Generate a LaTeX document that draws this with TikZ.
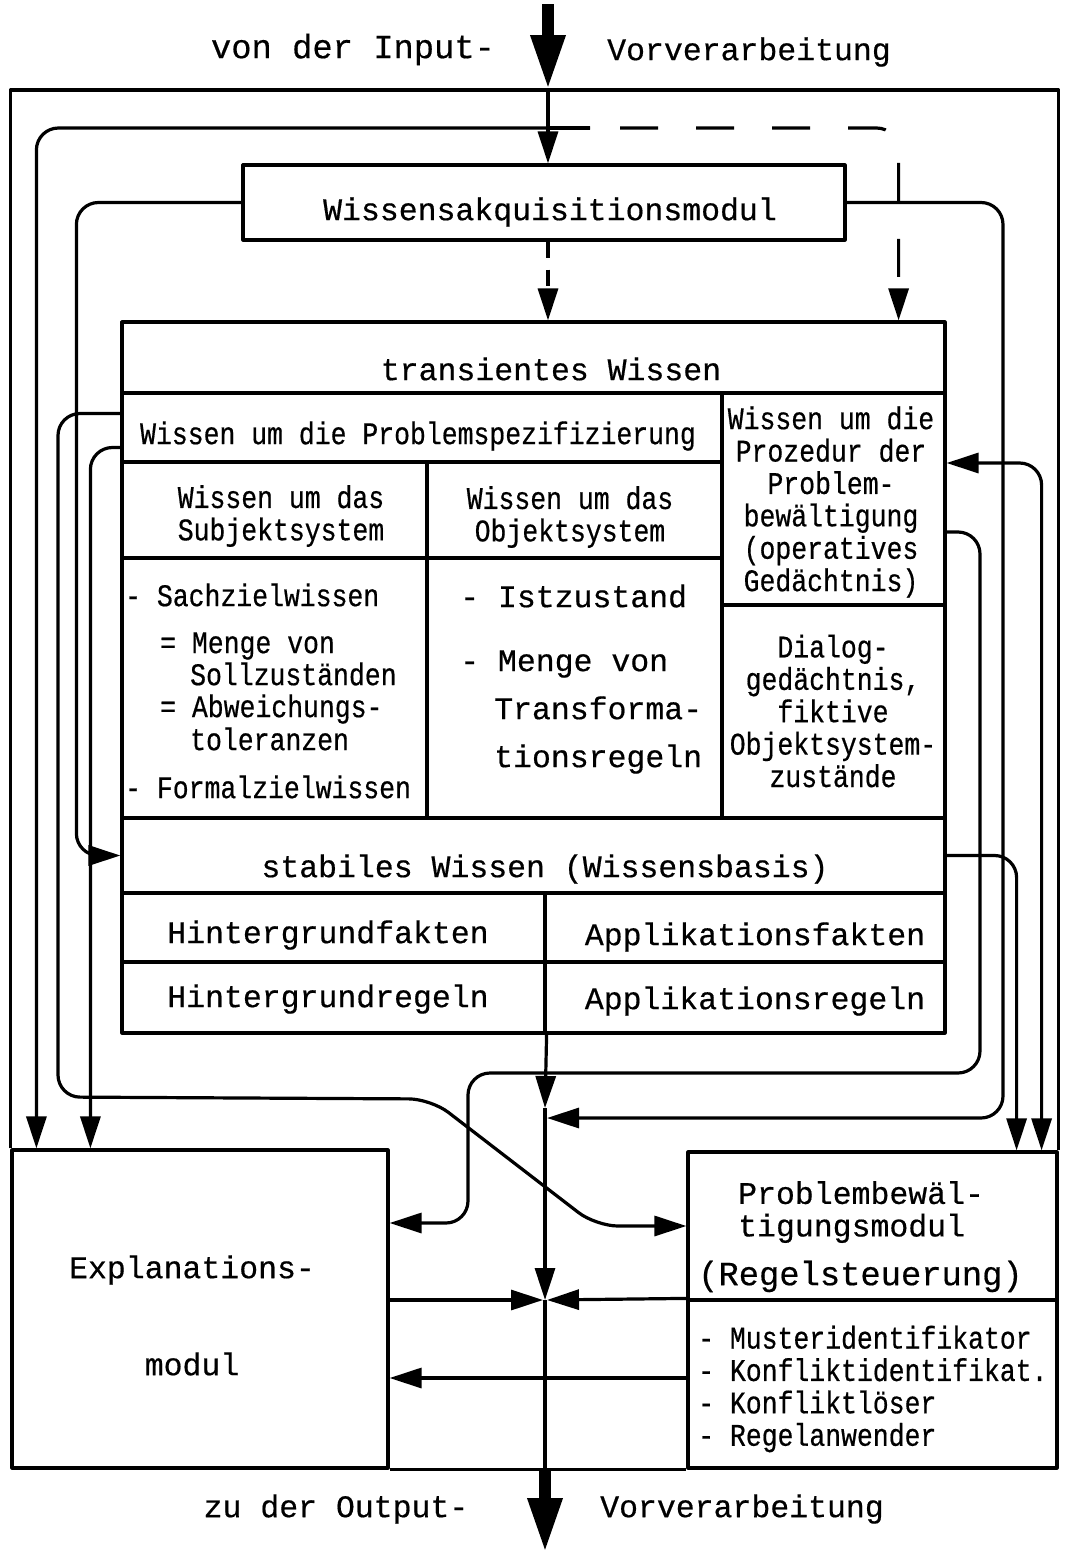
\documentclass[tikz,border=0pt]{standalone}
\usepackage{fontspec}
\newfontfamily\widett[FakeBold=0.5]{Liberation Mono}
\newfontfamily\narrowtt[FakeStretch=0.84,FakeBold=0.5]{Liberation Mono}
\usetikzlibrary{arrows.meta,fit,calc}
\tikzset{
  cell/.style={draw, line width=3.2pt, inner sep=0pt},
  wtxt/.style={font=\widett\fontsize{31.5}{32.5}\selectfont, inner sep=0pt},
  bigtxt/.style={font=\widett\fontsize{33.8}{34}\selectfont, inner sep=0pt},
  ntxt/.style={font=\narrowtt\fontsize{31.5}{32.4}\selectfont, inner sep=0pt},
  mids/.style={anchor=mid, yshift=-8pt},
  midw/.style={anchor=mid west, yshift=-8pt},
  plain/.style={line width=3.2pt},
  link/.style={line width=3.2pt, -{Triangle[length=32pt,width=20pt]}},
  twolink/.style={line width=3.2pt, {Triangle[length=32pt,width=20pt]}-{Triangle[length=32pt,width=20pt]}},
  bigarrow/.style={line width=12pt, -{Triangle[length=55pt,width=32pt]}},
  longdash/.style={dash pattern=on 38pt off 38pt, dash phase=46pt},
  shortdash/.style={dash pattern=on 16pt off 12pt},
  rc/.style={rounded corners=22pt},
}
\begin{document}
\begin{tikzpicture}[x=1pt,y=-1pt,line join=round]
\useasboundingbox (0,0) rectangle (1072,1553);

% ---------------- boxes ----------------
\node[cell, fit={(243,165) (845,240)}] (wa) {};
\node[cell, fit={(122,322) (945,393)}] (tw) {};
\node[cell, fit={(122,393) (722,462)}] (ps) {};
\node[cell, fit={(722,393) (945,605)}] (pr) {};
\node[cell, fit={(122,462) (427,558)}] (sh) {};
\node[cell, fit={(427,462) (722,558)}] (oh) {};
\node[cell, fit={(122,558) (427,818)}] (sc) {};
\node[cell, fit={(427,558) (722,818)}] (oc) {};
\node[cell, fit={(722,605) (945,818)}] (dg) {};
\node[cell, fit={(122,818) (945,893)}] (sw) {};
\node[cell, fit={(122,893) (545,962)}] (hf) {};
\node[cell, fit={(545,893) (945,962)}] (af) {};
\node[cell, fit={(122,962) (545,1033)}] (hr) {};
\node[cell, fit={(545,962) (945,1033)}] (ar) {};
\node[cell, fit={(12,1150) (388,1468)}] (ex) {};
\node[cell, fit={(688,1152) (1057,1300)}] (pbt) {};
\node[cell, fit={(688,1300) (1057,1468)}] (pbl) {};

% ---------------- texts ----------------
\node[bigtxt, mids] (tin1) at (353,48) {von der Input-};
\node[wtxt, mids] (tin2) at (749,50) {Vorverarbeitung};
\node[wtxt, mids] (twa) at (550,210) {Wissensakquisitionsmodul};
\node[wtxt, mids] (ttw) at (551,370) {transientes Wissen};
\node[ntxt, mids] (tps) at (418,434) {Wissen um die Problemspezifizierung};
\node[ntxt, align=center] (tpr) at (831,502) {Wissen um die\\Prozedur der\\Problem-\\bewältigung\\(operatives\\Gedächtnis)};
\node[ntxt, align=center] (tsh) at (281,516) {Wissen um das\\Subjektsystem};
\node[ntxt, align=center] (toh) at (570,517) {Wissen um das\\Objektsystem};
\node[ntxt, midw] (ts1) at (125,596) {- Sachzielwissen};
\node[ntxt, midw] (ts2) at (160,643) {= Menge von};
\node[ntxt, midw] (ts3) at (190,675) {Sollzuständen};
\node[ntxt, midw] (ts4) at (160,707) {= Abweichungs-};
\node[ntxt, midw] (ts5) at (190,740) {toleranzen};
\node[ntxt, midw] (ts6) at (125,788) {- Formalzielwissen};
\node[wtxt, midw] (to1) at (460,597) {- Istzustand};
\node[wtxt, midw] (to2) at (460,661) {- Menge von};
\node[wtxt, midw] (to3) at (494,709) {Transforma-};
\node[wtxt, midw] (to4) at (494,757) {tionsregeln};
\node[ntxt, align=center] (tdg) at (833,711) {Dialog-\\gedächtnis,\\fiktive\\Objektsystem-\\zustände};
\node[wtxt, mids] (tsw) at (545,867) {stabiles Wissen (Wissensbasis)};
\node[wtxt, mids] (thf) at (328,933) {Hintergrundfakten};
\node[wtxt, mids] (taf) at (755,935) {Applikationsfakten};
\node[wtxt, mids] (thr) at (328,997) {Hintergrundregeln};
\node[wtxt, mids] (tar) at (755,999) {Applikationsregeln};
\node[wtxt, mids] (tex1) at (192,1268) {Explanations-};
\node[wtxt, mids] (tex2) at (192,1365) {modul};
\node[wtxt, align=left, anchor=west] (tpb) at (738,1212) {Problembewäl-\\tigungsmodul};
\node[bigtxt, midw] (tpb2) at (698,1275) {(Regelsteuerung)};
\node[ntxt, align=left, anchor=west] (tpl) at (698,1389) {- Musteridentifikator\\- Konfliktidentifikat.\\- Konfliktlöser\\- Regelanwender};
\node[wtxt, mids] (tout1) at (336,1507) {zu der Output-};
\node[wtxt, mids] (tout2) at (742,1507) {Vorverarbeitung};

% ---------------- coordinates ----------------
\coordinate (inTop) at (548,4);
\coordinate (inJ) at (548,90);
\coordinate (br) at (590,128);
\coordinate (m1) at (545,1108);
\coordinate (cC) at (547,1118);
\coordinate (cross) at (545,1300);
\coordinate (outTip) at (545,1553);

% ---------------- input / frame ----------------
\draw[bigarrow] (inTop) -- (inJ);
\draw[plain] (ex.north west) |- (inJ) -| (pbt.north east);
\draw[link] (inJ) -- (inJ |- wa.north);
\draw[link, rc] (br) -| ([xshift=26pt]ex.north west);
\draw[plain] (inJ |- br) -- (br);
\draw[link, rc, longdash] (br) -| ([xshift=-48pt]tw.north east);
\draw[link, shortdash] (wa.south -| inJ) -- (tw.north -| inJ);

% ---------------- left connectors ----------------
\draw[link, rc] (wa.west) -| ($(sw.west)+(-44,0)$) -- (sw.west);
\draw[link, rc] ($(ps.west)+(0,-14)$) -| (58,1097) -- (431,1099) -- (596,1226) -- (pbt.west);
\draw[link, rc] ($(ps.west)+(0,20)$) -| ([xshift=80pt]ex.north west);

% ---------------- right connectors ----------------
\draw[link, rc] (wa.east) -| (1003,1118) -- (cC);
\draw[link, rc] (pr.east |- 0,532) -| (980,1073) -| (468,1223) -- (ex.east |- 0,1223);
\draw[link, rc] (sw.east) -| ([xshift=-42pt]pbt.north east);
\draw[twolink, rc] ([xshift=-17pt]pbt.north east) |- (pr.east |- 0,463);

% ---------------- central ----------------
\draw[link] (hr.south east) -- (m1);
\draw[link] (m1) -- (cross);
\draw[plain] (cross) -- (cross |- ex.south);
\draw[link] (ex.east |- cross) -- ([xshift=-2pt]cross);
\draw[link] (pbl.north west) -- ([xshift=2pt]cross);
\draw[link] (pbl.west |- 0,1378) -- (ex.east |- 0,1378);
\draw[plain] (ex.south east) -- (pbl.south west);
\draw[bigarrow] (cross |- ex.south) -- (outTip);
\end{tikzpicture}
\end{document}
